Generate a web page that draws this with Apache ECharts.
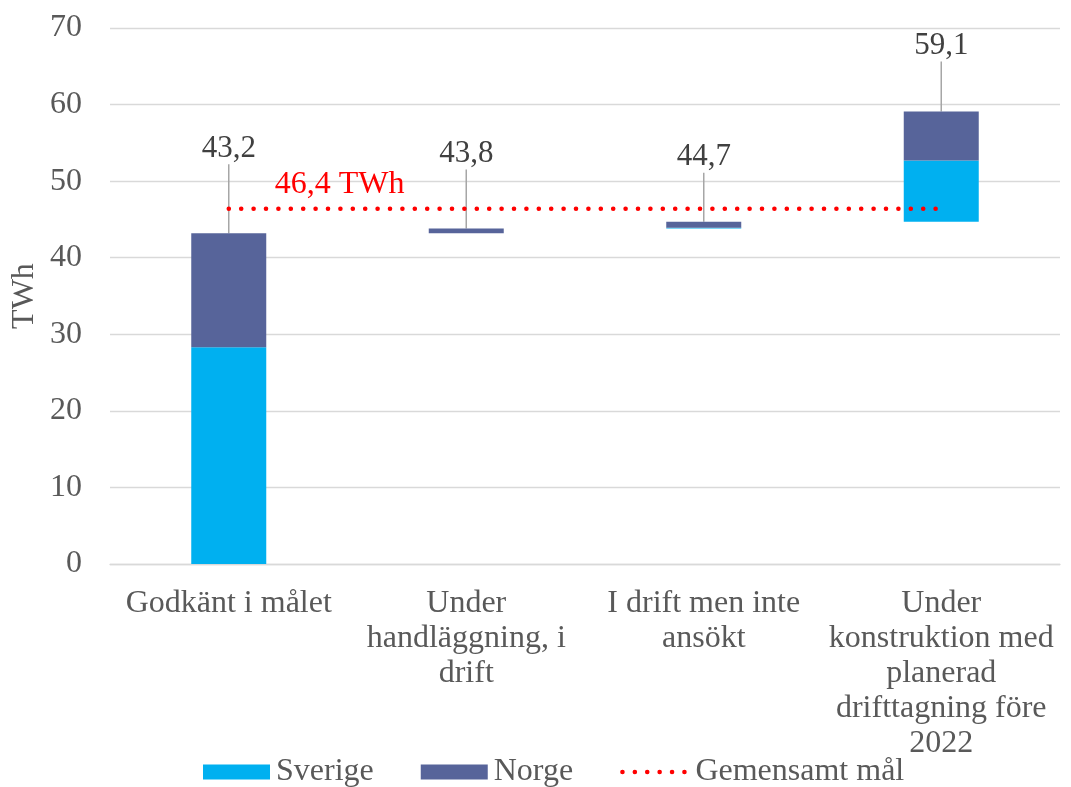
<!DOCTYPE html>
<html>
<head>
<meta charset="utf-8">
<script src="https://cdn.jsdelivr.net/npm/echarts@6/dist/echarts.min.js"></script>
<style>html,body{margin:0;padding:0;background:#fff}#c{width:1071px;height:787px}</style>
</head>
<body>
<div id="c"></div>
<script>
const categories = ['Godkänt i målet', 'Under\nhandläggning, i\ndrift', 'I drift men inte\nansökt', 'Under\nkonstruktion med\nplanerad\ndrifttagning före\n2022'];
const baseValues = [0, 43.2, 43.8, 44.7];
const sverige = [28.3, 0, 0.1, 8.0];
const norge = [14.9, 0.6, 0.8, 6.4];
const totals = [43.2, 43.8, 44.7, 59.1];
const goalLine = [46.4, 46.4, 46.4, 46.4];
const goalLabel = '46,4 TWh';
const yTicks = [0, 10, 20, 30, 40, 50, 60, 70];

const labelDy = [-64, -54, -44, -45];
const FONT = 'Liberation Serif';
const dotted = {color: '#ff0000', width: 4.5, type: [0.1, 12.3], cap: 'round'};
const chart = echarts.init(document.getElementById('c'));
chart.setOption({
  animation: false,
  grid: {left: 110, right: 11, top: 28, bottom: 223},
  legend: {
    top: 751, left: 198,
    itemWidth: 67, itemHeight: 15, itemGap: 47,
    textStyle: {fontFamily: FONT, fontSize: 32, color: '#595959', padding: [0, 0, 0, 1]},
    data: [
      {name: 'Sverige', icon: 'rect'},
      {name: 'Norge', icon: 'rect'},
      {name: 'Gemensamt mål', itemStyle: {opacity: 0}, lineStyle: dotted}
    ]
  },
  xAxis: {
    type: 'category', data: categories,
    axisTick: {show: false},
    axisLine: {lineStyle: {color: '#d9d9d9', width: 1.3}},
    axisLabel: {interval: 0, fontFamily: FONT, fontSize: 32, color: '#595959', lineHeight: 35, margin: 22}
  },
  yAxis: {
    type: 'value', min: yTicks[0], max: yTicks[yTicks.length - 1], interval: 10,
    name: 'TWh', nameLocation: 'middle', nameGap: 69, nameMoveOverlap: false,
    nameTextStyle: {fontFamily: FONT, fontSize: 32, color: '#595959'},
    axisLine: {show: false}, axisTick: {show: false},
    axisLabel: {fontFamily: FONT, fontSize: 32, color: '#595959', margin: 28},
    splitLine: {lineStyle: {color: '#d9d9d9', width: 1.3}}
  },
  series: [
    {name: 'base', type: 'bar', stack: 'w', barWidth: 75, data: baseValues,
     itemStyle: {color: 'transparent'}, silent: true},
    {name: 'Sverige', type: 'bar', stack: 'w', barWidth: 75, data: sverige,
     itemStyle: {color: '#00b0f0'}},
    {name: 'Norge', type: 'bar', stack: 'w', barWidth: 75, data: norge,
     itemStyle: {color: '#57649a'},
     label: {show: true, position: 'top', distance: 5,
       formatter: p => totals[p.dataIndex].toFixed(1).replace('.', ','),
       fontFamily: FONT, fontSize: 31, color: '#404040'},
     labelLine: {show: true, lineStyle: {color: '#a6a6a6', width: 1.5}},
     labelLayout: p => ({dy: labelDy[p.dataIndex]})
    },
    {name: 'Gemensamt mål', type: 'line', data: goalLine, symbol: 'none',
     lineStyle: dotted,
     itemStyle: {color: '#ff0000'},
     markPoint: {
       symbol: 'circle', symbolSize: 0,
       data: [{coord: [0, goalLine[0]], value: goalLabel}],
       label: {show: true, position: 'right', distance: 0, offset: [46, -24],
         formatter: goalLabel, fontFamily: FONT, fontSize: 32, color: '#ff0000'}
     }
    }
  ]
});
</script>
</body>
</html>
